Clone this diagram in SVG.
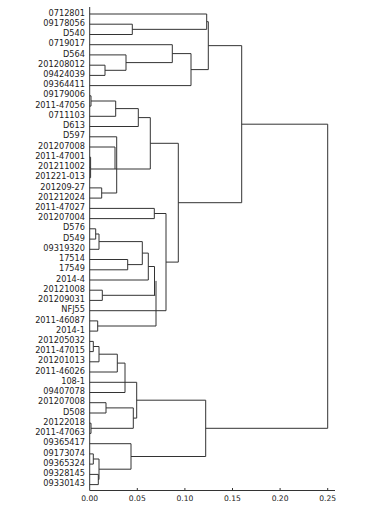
<svg xmlns="http://www.w3.org/2000/svg" width="375" height="514" viewBox="0 0 375 514">
<style>
.lbl{font-family:"DejaVu Sans",Verdana,sans-serif;font-size:8.2px;fill:#222;text-anchor:end}
.tick{font-family:"DejaVu Sans",Verdana,sans-serif;font-size:7.6px;fill:#222;text-anchor:middle}
.ln{fill:none;stroke:#333;stroke-width:1}
</style>
<rect width="375" height="514" fill="#fff"/>
<g id="leaves">
<g id="n1"><text class="lbl" x="85" y="15.6">0712801</text></g>
<g id="n2"><text class="lbl" x="85" y="25.8">09178056</text></g>
<g id="n3"><text class="lbl" x="85" y="36.1">D540</text></g>
<g id="n4"><text class="lbl" x="85" y="46.3">0719017</text></g>
<g id="n5"><text class="lbl" x="85" y="56.5">D564</text></g>
<g id="n6"><text class="lbl" x="85" y="66.8">201208012</text></g>
<g id="n7"><text class="lbl" x="85" y="77.0">09424039</text></g>
<g id="n8"><text class="lbl" x="85" y="87.2">09364411</text></g>
<g id="n9"><text class="lbl" x="85" y="97.4">09179006</text></g>
<g id="n10"><text class="lbl" x="85" y="107.7">2011-47056</text></g>
<g id="n11"><text class="lbl" x="85" y="117.9">0711103</text></g>
<g id="n12"><text class="lbl" x="85" y="128.1">D613</text></g>
<g id="n13"><text class="lbl" x="85" y="138.4">D597</text></g>
<g id="n14"><text class="lbl" x="85" y="148.6">201207008</text></g>
<g id="n15"><text class="lbl" x="85" y="158.8">2011-47001</text></g>
<g id="n16"><text class="lbl" x="85" y="169.1">201211002</text></g>
<g id="n17"><text class="lbl" x="85" y="179.3">201221-013</text></g>
<g id="n18"><text class="lbl" x="85" y="189.5">201209-27</text></g>
<g id="n19"><text class="lbl" x="85" y="199.7">201212024</text></g>
<g id="n20"><text class="lbl" x="85" y="210.0">2011-47027</text></g>
<g id="n21"><text class="lbl" x="85" y="220.2">201207004</text></g>
<g id="n22"><text class="lbl" x="85" y="230.4">D576</text></g>
<g id="n23"><text class="lbl" x="85" y="240.7">D549</text></g>
<g id="n24"><text class="lbl" x="85" y="250.9">09319320</text></g>
<g id="n25"><text class="lbl" x="85" y="261.1">17514</text></g>
<g id="n26"><text class="lbl" x="85" y="271.4">17549</text></g>
<g id="n27"><text class="lbl" x="85" y="281.6">2014-4</text></g>
<g id="n28"><text class="lbl" x="85" y="291.8">20121008</text></g>
<g id="n29"><text class="lbl" x="85" y="302.0">201209031</text></g>
<g id="n30"><text class="lbl" x="85" y="312.3">NFJ55</text></g>
<g id="n31"><text class="lbl" x="85" y="322.5">2011-46087</text></g>
<g id="n32"><text class="lbl" x="85" y="332.7">2014-1</text></g>
<g id="n33"><text class="lbl" x="85" y="343.0">201205032</text></g>
<g id="n34"><text class="lbl" x="85" y="353.2">2011-47015</text></g>
<g id="n35"><text class="lbl" x="85" y="363.4">201201013</text></g>
<g id="n36"><text class="lbl" x="85" y="373.7">2011-46026</text></g>
<g id="n37"><text class="lbl" x="85" y="383.9">108-1</text></g>
<g id="n38"><text class="lbl" x="85" y="394.1">09407078</text></g>
<g id="n39"><text class="lbl" x="85" y="404.3">201207008</text></g>
<g id="n40"><text class="lbl" x="85" y="414.6">D508</text></g>
<g id="n41"><text class="lbl" x="85" y="424.8">20122018</text></g>
<g id="n42"><text class="lbl" x="85" y="435.0">2011-47063</text></g>
<g id="n43"><text class="lbl" x="85" y="445.3">09365417</text></g>
<g id="n44"><text class="lbl" x="85" y="455.5">09173074</text></g>
<g id="n45"><text class="lbl" x="85" y="465.7">09365324</text></g>
<g id="n46"><text class="lbl" x="85" y="476.0">09328145</text></g>
<g id="n47"><text class="lbl" x="85" y="486.2">09330143</text></g>
</g>
<g id="axis">
<path class="ln" d="M89.7,7 V490.5 H335 M137.3,488 V490.5 M184.9,488 V490.5 M232.5,488 V490.5 M280.1,488 V490.5 M327.7,488 V490.5"/>
<text class="tick" x="89.7" y="500.5">0.00</text>
<text class="tick" x="137.3" y="500.5">0.05</text>
<text class="tick" x="184.9" y="500.5">0.10</text>
<text class="tick" x="232.5" y="500.5">0.15</text>
<text class="tick" x="280.1" y="500.5">0.20</text>
<text class="tick" x="327.7" y="500.5">0.25</text>
</g>
<g id="connectors">
<path class="ln" d="
M89.7,14 H206.7
M89.7,24.2 H132.3 V34.5 H89.7 M132.3,29.35 H206.7
M206.7,14 V29.35 M206.7,21.7 H208.3
M89.7,44.7 H172.3
M89.7,54.9 H126
M89.7,65.2 H105 V75.4 H89.7 M105,70.3 H126
M126,54.9 V70.3 M126,62.6 H172.3
M172.3,44.7 V62.6 M172.3,53.6 H191
M89.7,85.6 H191 V53.6 M191,69.6 H208.3
M208.3,21.7 V69.6 M208.3,45.65 H241.7
M89.7,95.8 H91 V106.1 H89.7 M91,101 H115.7
M89.7,116.3 H115.7 V101 M115.7,108.6 H138.3
M89.7,126.5 H138.3 V108.6 M138.3,117.6 H150.3
M89.7,136.8 H116.7
M89.7,147 H115 V169
M89.7,157.2 H90.6 M89.7,167.4 H90.6 M89.7,177.7 H90.6 M90.6,157.2 V177.7
M90.6,169 H150.3
M89.7,187.9 H101.7 V198.1 H89.7 M101.7,193 H116.7
M116.7,136.8 V193
M150.3,117.6 V169 M150.3,143.3 H178.3
M89.7,208.4 H154.3 V218.6 H89.7 M154.3,213.5 H166
M89.7,228.8 H95.7 V239.1 H89.7 M95.7,234 H99
M89.7,249.3 H99 V234 M99,241.6 H142.3
M89.7,259.5 H127.7 V269.8 H89.7 M127.7,264.6 H142.3
M142.3,241.6 V264.6 M142.3,253.1 H148.3
M89.7,280 H148.3 V253.1 M148.3,266.5 H154.5
M89.7,290.2 H102.3 V300.4 H89.7 M102.3,295.3 H155.3
M154.5,266.5 V295.3
M89.7,320.9 H97.7 V331.1 H89.7 M97.7,326 H156
M156,280.9 V326
M89.7,310.7 H166
M166,213.5 V310.7 M166,262.1 H178.3
M178.3,143.3 V262.1 M178.3,202.7 H241.7
M241.7,45.65 V202.7 M241.7,124.2 H327.7
M89.7,341.4 H93.3 V351.6 H89.7 M93.3,346.5 H99
M89.7,361.8 H99 V346.5 M99,354.2 H117.3
M89.7,372 H117.3 V354.2 M117.3,363.1 H125
M89.7,382.3 H136.7
M89.7,392.5 H125 V363.1
M89.7,402.7 H106 V413 H89.7 M106,407.9 H133.3
M89.7,423.2 H91 V433.4 H89.7 M91,428.3 H133.3
M133.3,407.9 V428.3 M133.3,418.1 H136.7
M136.7,382.3 V418.1 M136.7,400.2 H205.7
M89.7,443.7 H131
M89.7,453.9 H93.3 V464.1 H89.7 M93.3,459 H99
M89.7,474.4 H98.3 V484.6 H89.7 M98.3,479.5 H99
M99,459 V479.5 M99,469.2 H131
M131,443.7 V469.2 M131,456.5 H205.7
M205.7,400.2 V456.5 M205.7,428.3 H327.7
M327.7,124.2 V428.3"/>
</g>
</svg>
